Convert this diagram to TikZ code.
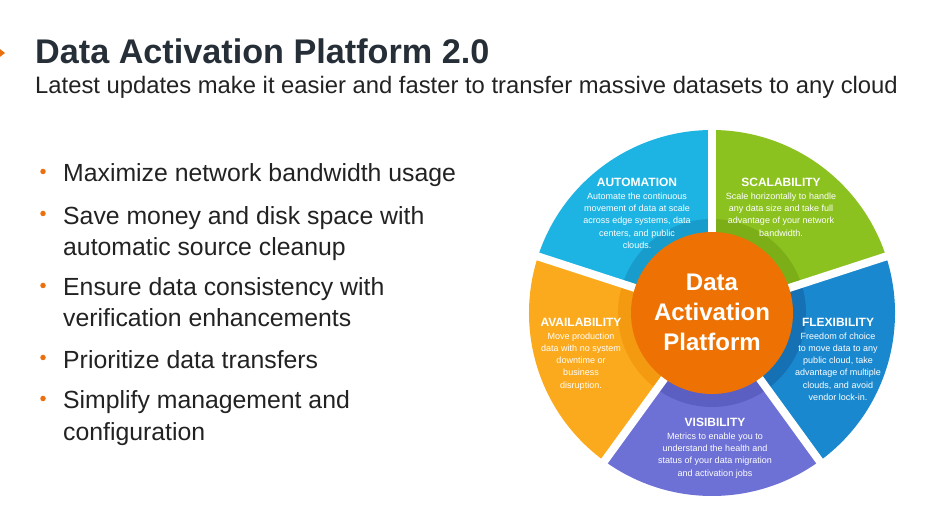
\documentclass[tikz,border=0pt]{standalone}
\usepackage{fontspec}
\setmainfont{Liberation Sans}
\usepackage{tikz}
\usetikzlibrary{positioning}

\definecolor{titlegray}{HTML}{262F37}
\definecolor{textgray}{HTML}{222222}
\definecolor{dotorange}{HTML}{EC6F0E}
\definecolor{autoblue}{HTML}{1DB4E3}
\definecolor{autoband}{HTML}{179CCB}
\definecolor{scalegreen}{HTML}{8CC21F}
\definecolor{scaleband}{HTML}{7CAE18}
\definecolor{flexblue}{HTML}{1A88CF}
\definecolor{flexband}{HTML}{1571B3}
\definecolor{vispurple}{HTML}{6D70D5}
\definecolor{visband}{HTML}{5C5FC2}
\definecolor{availorange}{HTML}{FBAA1D}
\definecolor{availband}{HTML}{F49A10}
\definecolor{coreorange}{HTML}{EE7203}

\begin{document}
\begin{tikzpicture}[x=1pt,y=1pt,
  headline/.style={font=\fontsize{12}{14}\selectfont\bfseries, text=white, inner sep=0pt},
  blurb/.style={font=\fontsize{9}{12.3}\selectfont, text=white, align=center, inner sep=0pt},
  bullet/.style={circle, fill=dotorange, inner sep=0pt, minimum size=5.5pt},
  point/.style={anchor=base west, align=left, inner sep=0pt, text=textgray,
    font=\fontsize{24.8}{31.5}\selectfont}]
\useasboundingbox (0,0) rectangle (950,517);
\coordinate (hub) at (712,204);
% slide marker
\fill[dotorange] (-4,471) -- (5,464) -- (-4,457) -- cycle;
% title lines
\node[anchor=base west, inner sep=0pt, text=titlegray,
  font=\fontsize{34.2}{40}\selectfont\bfseries] (title) at (35,453) {Data Activation Platform 2.0};
\node[anchor=base west, inner sep=0pt, text=textgray,
  font=\fontsize{23.8}{28}\selectfont] (subtitle) at (35,423)
  {Latest updates make it easier and faster to transfer massive datasets to any cloud};
% bullet list (base = last line)
\node[point] (maximize) at (63,335) {Maximize network bandwidth usage};
\node[point] (savemoney) at (63,261) {Save money and disk space with\\automatic source cleanup};
\node[point] (consistency) at (63,190) {Ensure data consistency with\\verification enhancements};
\node[point] (prioritize) at (63,149) {Prioritize data transfers};
\node[point] (simplify) at (63,77) {Simplify management and\\configuration};
\foreach \y [count=\i] in {335,293,221,149,108}
  \node[bullet] (dot\i) at (43,\y+10.5) {};
\begin{scope}[shift={(hub)}]
% draws segments
\fill[scalegreen] (0,0) -- (18:183) arc[start angle=18, end angle=90, radius=183] -- cycle;
\fill[autoblue] (0,0) -- (90:183) arc[start angle=90, end angle=162, radius=183] -- cycle;
\fill[availorange] (0,0) -- (162:183) arc[start angle=162, end angle=234, radius=183] -- cycle;
\fill[vispurple] (0,0) -- (234:183) arc[start angle=234, end angle=306, radius=183] -- cycle;
\fill[flexblue] (0,0) -- (306:183) arc[start angle=306, end angle=378, radius=183] -- cycle;
% draws inner bands
\fill[scaleband] (0,0) -- (18:94) arc[start angle=18, end angle=90, radius=94] -- cycle;
\fill[autoband] (0,0) -- (90:94) arc[start angle=90, end angle=162, radius=94] -- cycle;
\fill[availband] (0,0) -- (162:94) arc[start angle=162, end angle=234, radius=94] -- cycle;
\fill[visband] (0,0) -- (234:94) arc[start angle=234, end angle=306, radius=94] -- cycle;
\fill[flexband] (0,0) -- (306:94) arc[start angle=306, end angle=378, radius=94] -- cycle;
% separates segments
\foreach \a in {18,90,162,234,306}
  \draw[white, line width=8pt] (0,0) -- (\a:190);
\end{scope}
% hub
\node[circle, fill=coreorange, minimum size=162pt, inner sep=0pt] (core) at (hub) {};
\node[align=center, inner sep=0pt, text=white, font=\fontsize{24}{30}\selectfont\bfseries]
  (coretext) at ([yshift=1pt]hub) {Data\\Activation\\Platform};
% segment texts
\node[headline] (autohead) at (637,335) {AUTOMATION};
\node[blurb, below=6pt of autohead] (autotext) {Automate the continuous\\movement of data at scale\\across edge systems, data\\centers, and public\\clouds.};
\node[headline] (scalehead) at (781,335) {SCALABILITY};
\node[blurb, below=6pt of scalehead] (scaletext) {Scale horizontally to handle\\any data size and take full\\advantage of your network\\bandwidth.};
\node[headline] (availhead) at (581,195) {AVAILABILITY};
\node[blurb, below=6pt of availhead] (availtext) {Move production\\data with no system\\downtime or\\business\\disruption.};
\node[headline] (flexhead) at (838,195) {FLEXIBILITY};
\node[blurb, below=6pt of flexhead] (flextext) {Freedom of choice\\to move data to any\\public cloud, take\\advantage of multiple\\clouds, and avoid\\vendor lock-in.};
\node[headline] (vishead) at (715,95) {VISIBILITY};
\node[blurb, below=6pt of vishead] (vistext) {Metrics to enable you to\\understand the health and\\status of your data migration\\and activation jobs};
\end{tikzpicture}
\end{document}
